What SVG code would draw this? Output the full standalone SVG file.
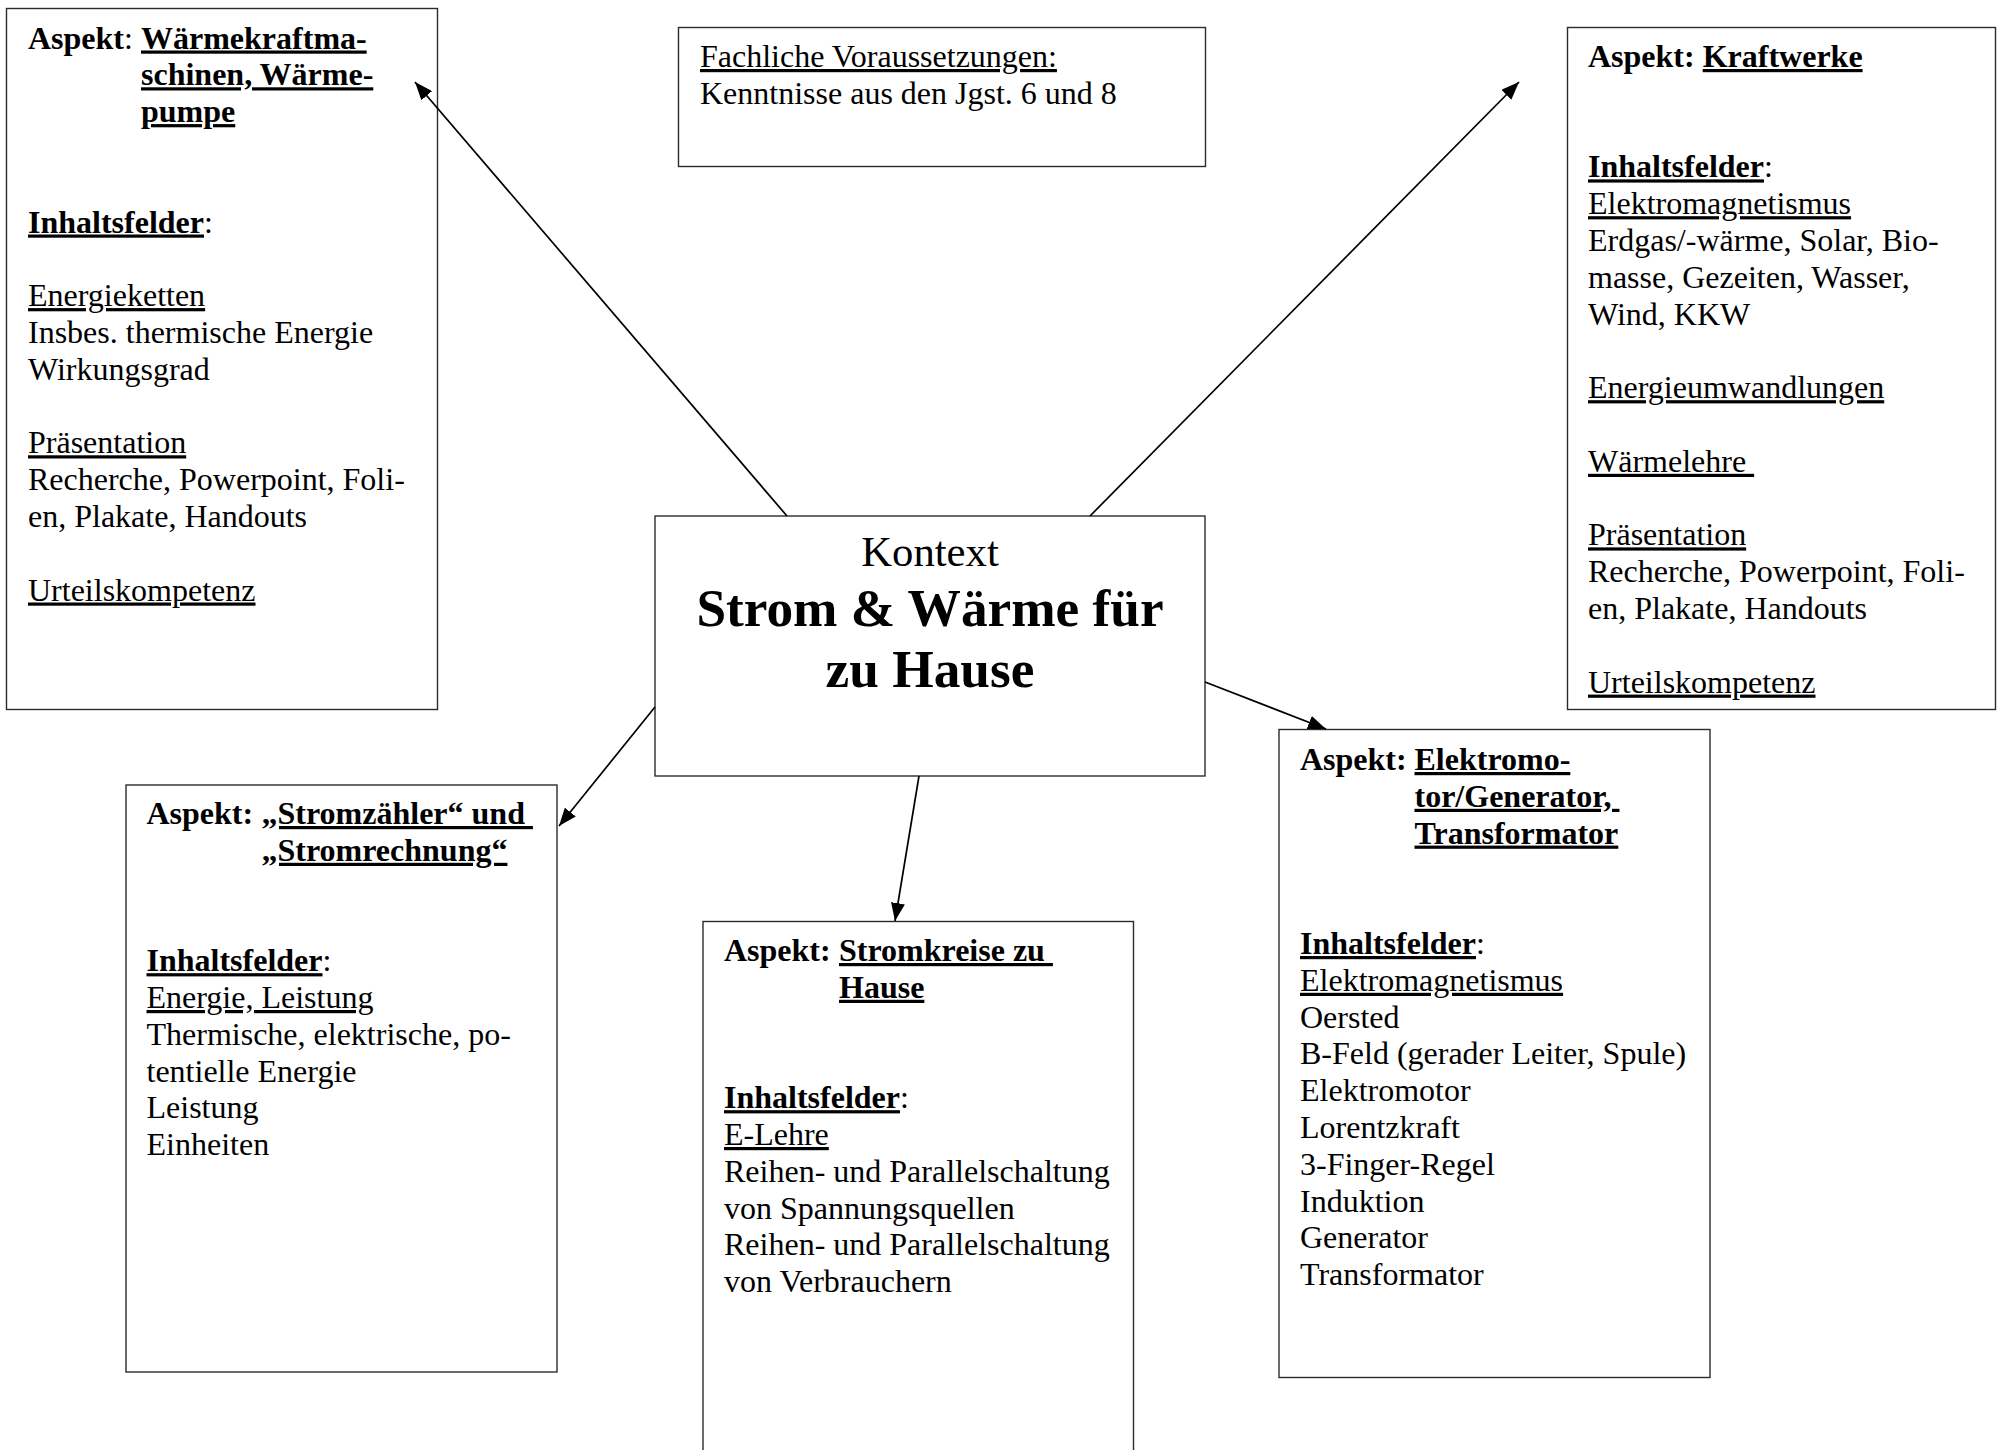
<svg xmlns="http://www.w3.org/2000/svg" width="1998" height="1450" viewBox="0 0 1998 1450">
  <style>
    text { font-family: "Liberation Serif", "Times New Roman", serif; font-size: 32px; fill: #000; white-space: pre; }
    .b { font-weight: bold; }
    .u { text-decoration: underline; }
    .box { fill: #fff; stroke: #2b2b2b; stroke-width: 1.4; }
    .conn line { stroke: #000; stroke-width: 1.7; marker-end: url(#ah); }
    .kontext { font-size: 42.7px; }
    .title { font-size: 53.3px; font-weight: bold; }
  </style>
  <defs>
    <marker id="ah" markerUnits="userSpaceOnUse" markerWidth="18" markerHeight="14" refX="18" refY="7" orient="auto" viewBox="0 0 18 14">
      <path d="M0,0 L18,7 L0,14 z" fill="#000"/>
    </marker>
  </defs>

  <rect width="1998" height="1450" fill="#fff"/>

  <!-- Aspect: heat engines -->
  <g id="node-waermekraftmaschinen">
    <rect class="box" x="6.5" y="8.5" width="431" height="701"/>
    <text x="28" y="48.5"><tspan class="b">Aspekt</tspan>: <tspan class="b u" x="141">Wärmekraftma-</tspan></text>
    <text class="b u" x="141" y="85.3">schinen, Wärme-</text>
    <text class="b u" x="141" y="122.1">pumpe</text>
    <text x="28" y="232.5"><tspan class="b u">Inhaltsfelder</tspan>:</text>
    <text class="u" x="28" y="306.1">Energieketten</text>
    <text x="28" y="342.9">Insbes. thermische Energie</text>
    <text x="28" y="379.7">Wirkungsgrad</text>
    <text class="u" x="28" y="453.3">Präsentation</text>
    <text x="28" y="490.1">Recherche, Powerpoint, Foli-</text>
    <text x="28" y="526.9">en, Plakate, Handouts</text>
    <text class="u" x="28" y="600.5">Urteilskompetenz</text>
  </g>

  <!-- Prerequisites -->
  <g id="node-voraussetzungen">
    <rect class="box" x="678.5" y="27.5" width="527" height="139"/>
    <text class="u" x="700" y="67">Fachliche Voraussetzungen:</text>
    <text x="700" y="103.8">Kenntnisse aus den Jgst. 6 und 8</text>
  </g>

  <!-- Aspect: power plants -->
  <g id="node-kraftwerke">
    <rect class="box" x="1567.5" y="27.5" width="428" height="682"/>
    <text x="1588" y="67"><tspan class="b">Aspekt: </tspan><tspan class="b u">Kraftwerke</tspan></text>
    <text x="1588" y="177.4"><tspan class="b u">Inhaltsfelder</tspan>:</text>
    <text class="u" x="1588" y="214.2">Elektromagnetismus</text>
    <text x="1588" y="251">Erdgas/-wärme, Solar, Bio-</text>
    <text x="1588" y="287.8">masse, Gezeiten, Wasser,</text>
    <text x="1588" y="324.6">Wind, KKW</text>
    <text class="u" x="1588" y="398.2">Energieumwandlungen</text>
    <text class="u" x="1588" y="471.8">Wärmelehre </text>
    <text class="u" x="1588" y="545.4">Präsentation</text>
    <text x="1588" y="582.2">Recherche, Powerpoint, Foli-</text>
    <text x="1588" y="619">en, Plakate, Handouts</text>
    <text class="u" x="1588" y="692.6">Urteilskompetenz</text>
  </g>

  <!-- Central context -->
  <g id="node-kontext">
    <rect class="box" x="655" y="516" width="550" height="260"/>
    <text class="kontext" x="930" y="566" text-anchor="middle">Kontext</text>
    <text class="title" x="930" y="626" text-anchor="middle">Strom &amp; Wärme für</text>
    <text class="title" x="930" y="687" text-anchor="middle">zu Hause</text>
  </g>

  <!-- Aspect: electricity meter and bill -->
  <g id="node-stromzaehler">
    <rect class="box" x="126" y="785" width="431" height="587"/>
    <text x="146.5" y="824"><tspan class="b">Aspekt: </tspan><tspan class="b u" x="261.5">„Stromzähler“ und </tspan></text>
    <text class="b u" x="261.5" y="860.8">„Stromrechnung“</text>
    <text x="146.5" y="971.2"><tspan class="b u">Inhaltsfelder</tspan>:</text>
    <text class="u" x="146.5" y="1008">Energie, Leistung</text>
    <text x="146.5" y="1044.8">Thermische, elektrische, po-</text>
    <text x="146.5" y="1081.6">tentielle Energie</text>
    <text x="146.5" y="1118.4">Leistung</text>
    <text x="146.5" y="1155.2">Einheiten</text>
  </g>

  <!-- Aspect: household circuits -->
  <g id="node-stromkreise">
    <rect class="box" x="703" y="921.5" width="430.5" height="560"/>
    <text x="724" y="961"><tspan class="b">Aspekt: </tspan><tspan class="b u" x="839">Stromkreise zu </tspan></text>
    <text class="b u" x="839" y="997.8">Hause</text>
    <text x="724" y="1108.2"><tspan class="b u">Inhaltsfelder</tspan>:</text>
    <text class="u" x="724" y="1145">E-Lehre</text>
    <text x="724" y="1181.8">Reihen- und Parallelschaltung</text>
    <text x="724" y="1218.6">von Spannungsquellen</text>
    <text x="724" y="1255.4">Reihen- und Parallelschaltung</text>
    <text x="724" y="1292.2">von Verbrauchern</text>
  </g>

  <!-- Aspect: motor, generator, transformer -->
  <g id="node-elektromotor">
    <rect class="box" x="1279" y="729.5" width="431" height="648"/>
    <text x="1300" y="770"><tspan class="b">Aspekt: </tspan><tspan class="b u" x="1414.5">Elektromo-</tspan></text>
    <text class="b u" x="1414.5" y="806.8">tor/Generator, </text>
    <text class="b u" x="1414.5" y="843.6">Transformator</text>
    <text x="1300" y="954"><tspan class="b u">Inhaltsfelder</tspan>:</text>
    <text class="u" x="1300" y="990.8">Elektromagnetismus</text>
    <text x="1300" y="1027.6">Oersted</text>
    <text x="1300" y="1064.4">B-Feld (gerader Leiter, Spule)</text>
    <text x="1300" y="1101.2">Elektromotor</text>
    <text x="1300" y="1138">Lorentzkraft</text>
    <text x="1300" y="1174.8">3-Finger-Regel</text>
    <text x="1300" y="1211.6">Induktion</text>
    <text x="1300" y="1248.4">Generator</text>
    <text x="1300" y="1285.2">Transformator</text>
  </g>

  <!-- Arrows from the context to each aspect -->
  <g id="connectors" class="conn">
    <line x1="787" y1="516" x2="415" y2="82"/>
    <line x1="1090" y1="516" x2="1519" y2="82"/>
    <line x1="655" y1="707" x2="559" y2="826"/>
    <line x1="919" y1="776" x2="895" y2="921"/>
    <line x1="1205" y1="682" x2="1326" y2="729"/>
  </g>
</svg>
